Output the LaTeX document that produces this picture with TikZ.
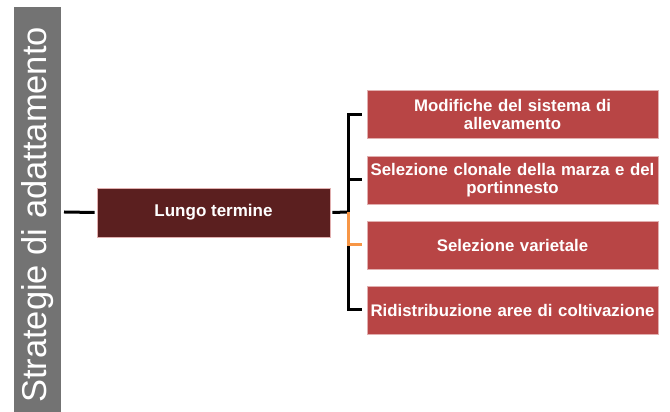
\documentclass[tikz,border=0pt]{standalone}
\usepackage{fontspec}
\setmainfont{Liberation Sans}
\usetikzlibrary{positioning,calc}
\definecolor{barGray}{RGB}{115,115,115}
\definecolor{rootRed}{RGB}{91,31,31}
\definecolor{leafRed}{RGB}{184,69,69}
\definecolor{edgePink}{RGB}{225,175,175}
\definecolor{linkOrange}{RGB}{247,150,70}
\begin{document}
\begin{tikzpicture}[x=1pt,y=1pt,
  leaf/.style={rectangle, fill=leafRed, draw=edgePink, line width=0.6pt, text=white,
    minimum width=291pt, minimum height=48pt, text width=291pt, align=center,
    inner xsep=0pt, inner ysep=1pt, font=\fontsize{16.8}{17.5}\selectfont\bfseries},
  link/.style={line width=3pt, black}]
  \useasboundingbox (0,0) rectangle (670,412);
  % title bar
  \fill[barGray] (14,0) rectangle (61,405);
  \node[rotate=90, inner sep=0pt, text=white, font=\fontsize{34.5}{36}\selectfont]
    (title) at (38,197) {Strategie di adattamento};
  % root
  \node[fill=rootRed, draw=edgePink, line width=0.6pt, text=white, minimum width=233pt,
    minimum height=49pt, font=\fontsize{17}{18}\selectfont\bfseries] (lt) at (213.5,199.5) {Lungo termine};
  \coordinate (bt) at (64,200);
  \coordinate (br) at (348,200);
  % leaves
  \node[leaf] (c1) at (512.5,297.5) {Modifiche del sistema di\\allevamento};
  \node[leaf] (c2) at (512.5,232) {Selezione clonale della marza e del\\portinnesto};
  \node[leaf] (c3) at (512.5,167) {Selezione varietale};
  \node[leaf] (c4) at (512.5,102) {Ridistribuzione aree di coltivazione};
  % connectors
  \draw[link] (bt) -- ([xshift=-2pt]lt.west);
  \draw[link] ([xshift=2pt]lt.east) -- (br);
  \draw[link, shorten >=5pt] (br) |- (c1.west);
  \draw[link, shorten >=5pt] (br) |- (c2.west);
  \draw[link, shorten >=5pt] (br) |- (c4.west);
  \draw[link, linkOrange, shorten >=5pt] (br) |- (c3.west);
\end{tikzpicture}
\end{document}
